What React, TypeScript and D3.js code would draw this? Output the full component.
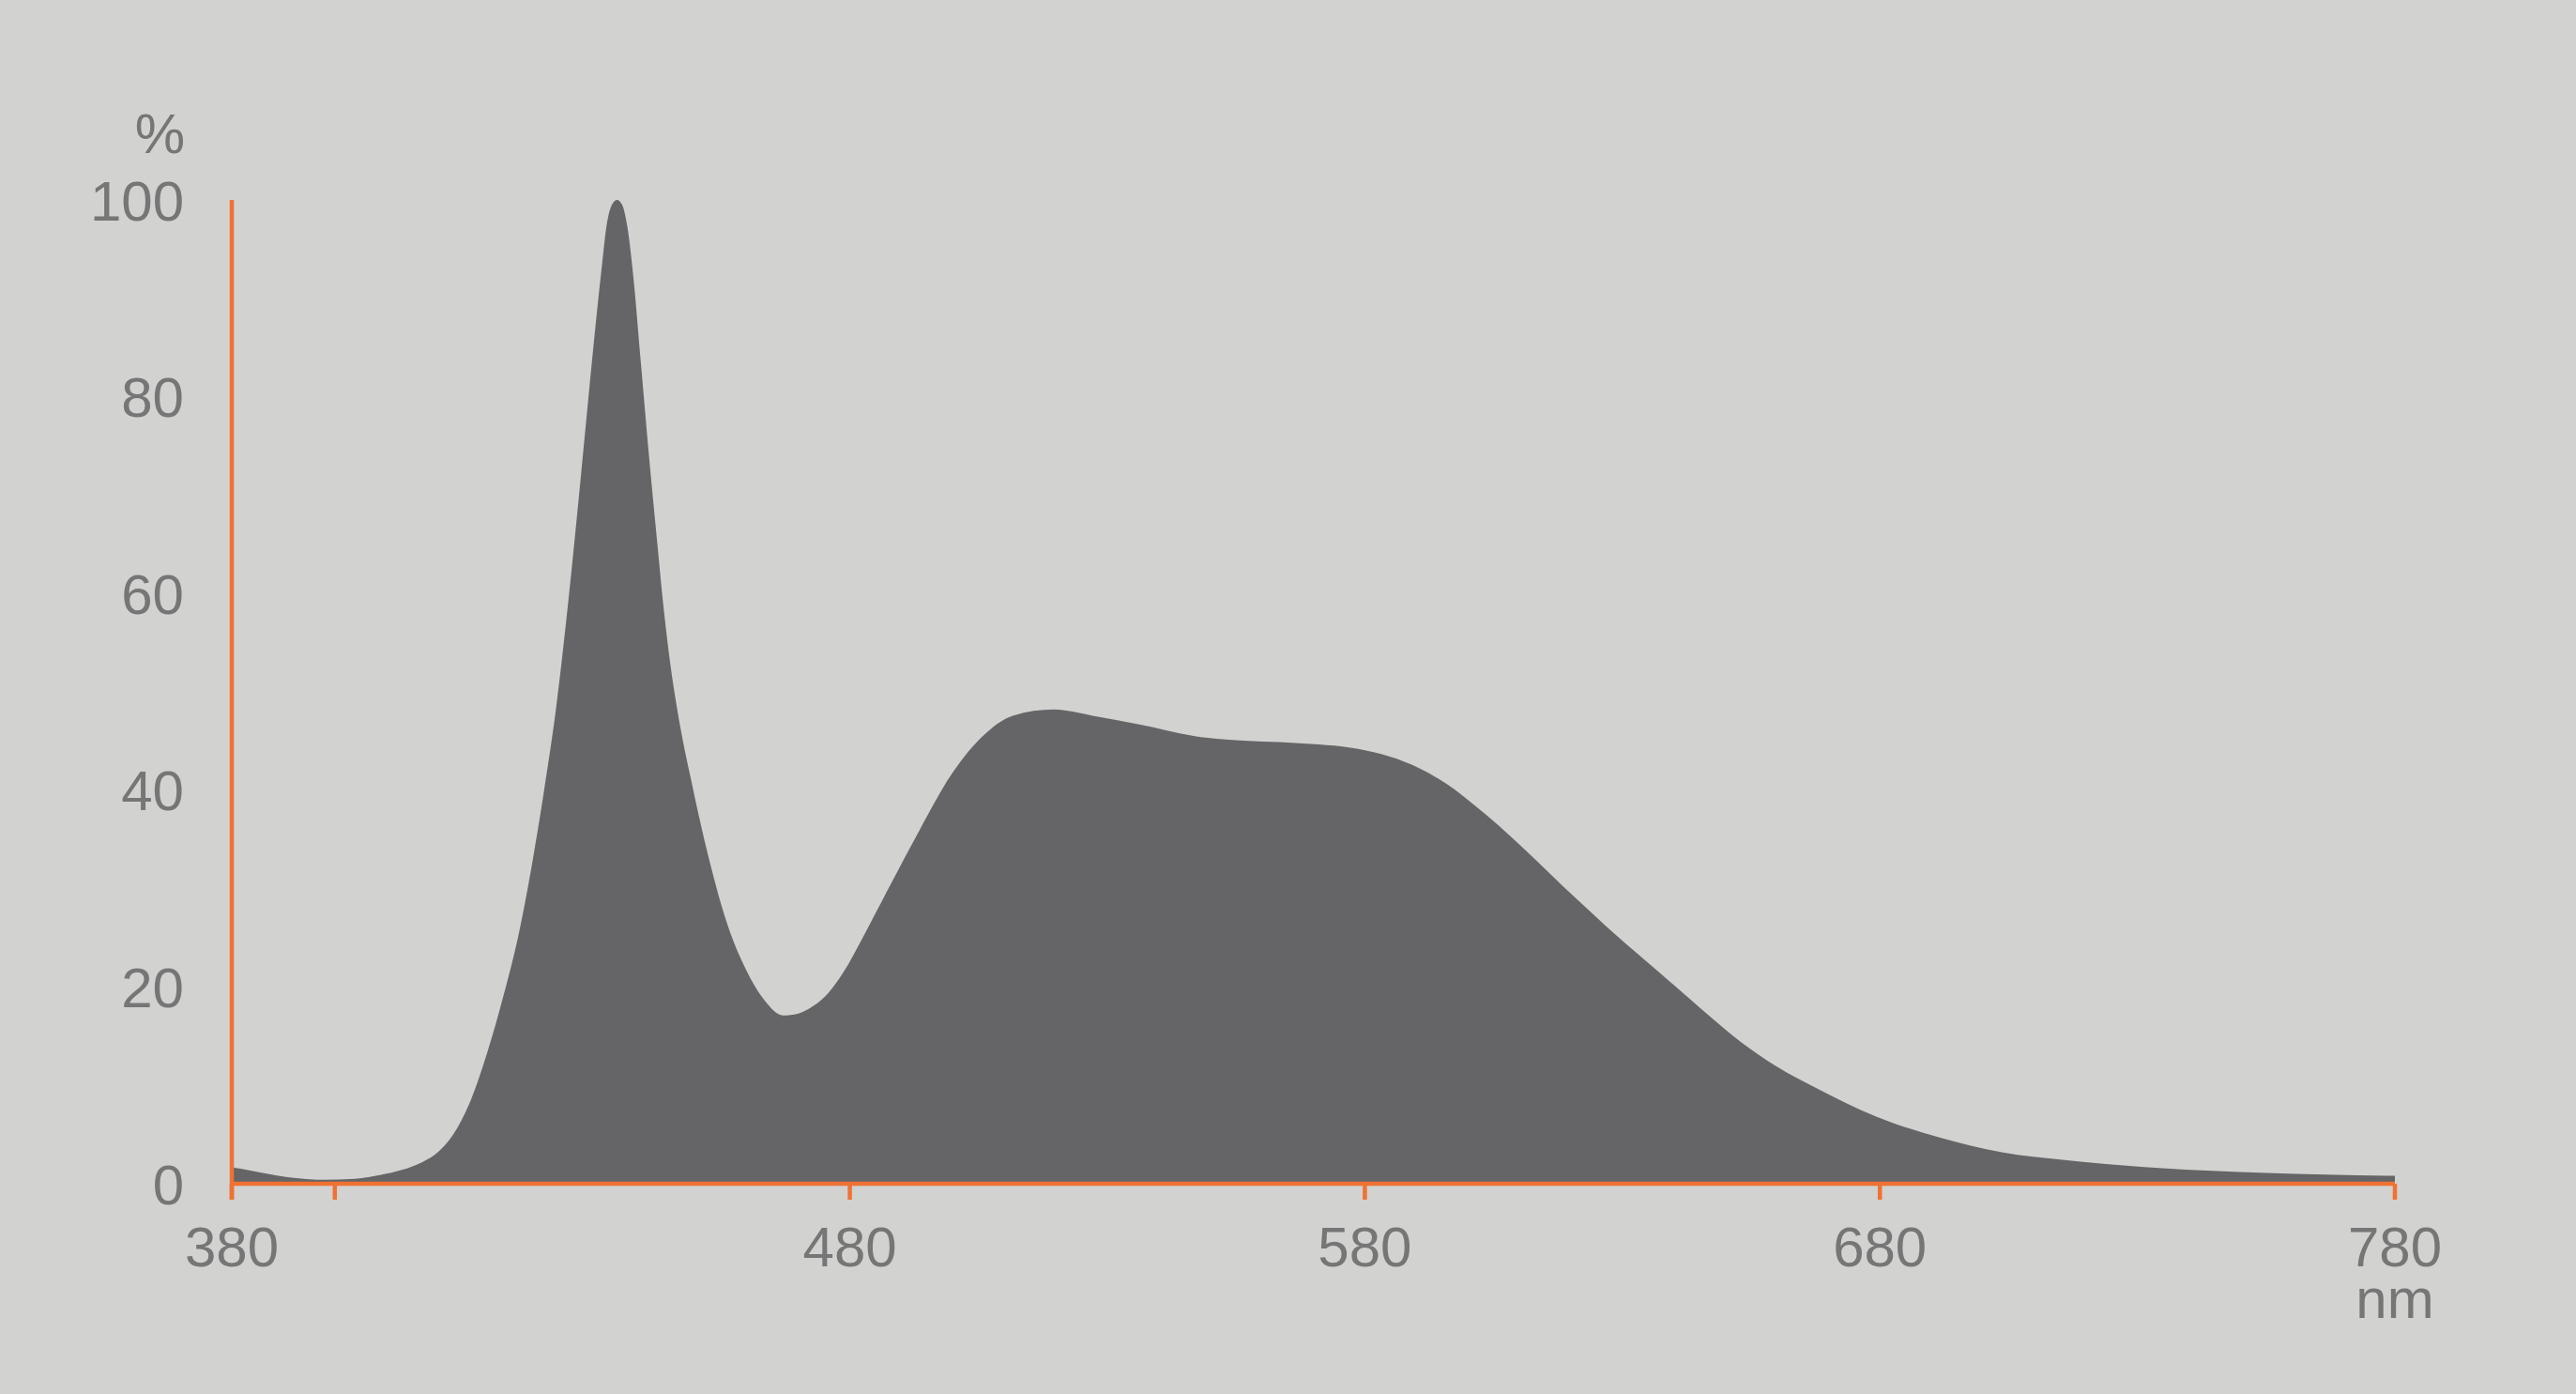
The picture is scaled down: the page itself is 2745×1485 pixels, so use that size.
import React from "react";
import * as d3 from "d3";

// Spectral power distribution (relative %)
const wavelengths = [
  360, 366, 372, 378, 384, 389, 393, 397, 400, 403, 406, 409.7, 412.8, 415.8, 418.3, 420.5, 423,
  425.5, 427.8, 430.2, 431.8, 432.8, 433.8, 434.8, 435.8, 436.8, 438, 439.4, 441, 442.6, 444, 445.1,
  446.3, 447.6, 449, 450.6, 453, 456.2, 459.8, 463.5, 467, 470, 473, 476, 479, 482.5, 487.5, 493.6,
  499.6, 505.8, 511.8, 519.6, 526.9, 536, 548.2, 554.2, 566.4, 578.7, 590.7, 596, 601, 606, 611, 616,
  621, 627, 634, 640, 647, 653, 660, 667, 679.4, 691.6, 703.7, 715.9, 734.1, 755, 780,
];
const intensity = [
  1.7, 1.1, 0.6, 0.4, 0.5, 0.9, 1.4, 2.2, 3.2, 5.0, 8.0, 13.5, 19.2, 25.6, 32.5, 39.5, 48.5,
  60, 72, 85, 93, 97.5, 99.5, 100, 99.5, 97.3, 92, 83.6, 74, 65.2, 57.8, 53,
  48.8, 45, 41.5, 37.6, 32.3, 26.4, 21.8, 18.6, 17.1, 17.3, 18.1, 19.5, 21.7, 25, 30, 36,
  41.5, 45.5, 47.6, 48.2, 47.6, 46.7, 45.4, 45.1, 44.8, 44.2, 42.2, 40.6, 38.6, 36.4, 34.0, 31.5,
  29.0, 26.1, 22.9, 20.2, 17.0, 14.4, 11.9, 9.9, 6.8, 4.7, 3.2, 2.4, 1.6, 1.1, 0.8,
];

const xTicks = [360, 380, 480, 580, 680, 780];
const xTickLabels = ["380", "", "480", "580", "680", "780"];
const yTicks = [0, 20, 40, 60, 80, 100];
const xUnit = "nm";
const yUnit = "%";

const W = 2745;
const H = 1485;
const BG = "#d2d2d0";
const FILL = "#656567";
const AXIS = "#f07232";
const TEXT = "#767676";
const FONT = "'Liberation Sans', Arial, Helvetica, sans-serif";

export default function App() {
  const x = d3.scaleLinear().domain([360, 780]).range([247, 2552]);
  const y = d3.scaleLinear().domain([0, 100]).range([1261, 213]);

  const data = wavelengths.map((w, i) => ({ w, v: intensity[i] }));
  const area = d3
    .area<{ w: number; v: number }>()
    .x((d) => x(d.w))
    .y0(y(0))
    .y1((d) => y(d.v))
    .curve(d3.curveMonotoneX);

  const tickLen = 17;
  const fs = 60;

  return (
    <svg
      width={W}
      height={H}
      style={{ position: "absolute", left: 0, top: 0, display: "block" }}
      fontFamily={FONT}
    >
      <rect x={0} y={0} width={W} height={H} fill={BG} />
      <path d={area(data) || ""} fill={FILL} />

      {/* y axis */}
      <line x1={x(360)} x2={x(360)} y1={y(100)} y2={y(0) + tickLen} stroke={AXIS} strokeWidth={4.5} />
      {/* x axis */}
      <line x1={x(360)} x2={x(780)} y1={y(0)} y2={y(0)} stroke={AXIS} strokeWidth={4.5} />
      {xTicks.map((t) => (
        <line key={"xt" + t} x1={x(t)} x2={x(t)} y1={y(0)} y2={y(0) + tickLen} stroke={AXIS} strokeWidth={4.5} />
      ))}
      {xTicks.map((t, i) =>
        xTickLabels[i] ? (
          <text key={"xl" + t} x={x(t)} y={1349} textAnchor="middle" fontSize={fs} fill={TEXT}>
            {xTickLabels[i]}
          </text>
        ) : null
      )}
      <text x={x(780)} y={1404} textAnchor="middle" fontSize={fs} fill={TEXT}>
        {xUnit}
      </text>

      {yTicks.map((t) => (
        <text key={"yl" + t} x={196} y={y(t)} dy="0.36em" textAnchor="end" fontSize={fs} fill={TEXT}>
          {t}
        </text>
      ))}
      <text x={197} y={163} textAnchor="end" fontSize={fs} fill={TEXT}>
        {yUnit}
      </text>
    </svg>
  );
}
